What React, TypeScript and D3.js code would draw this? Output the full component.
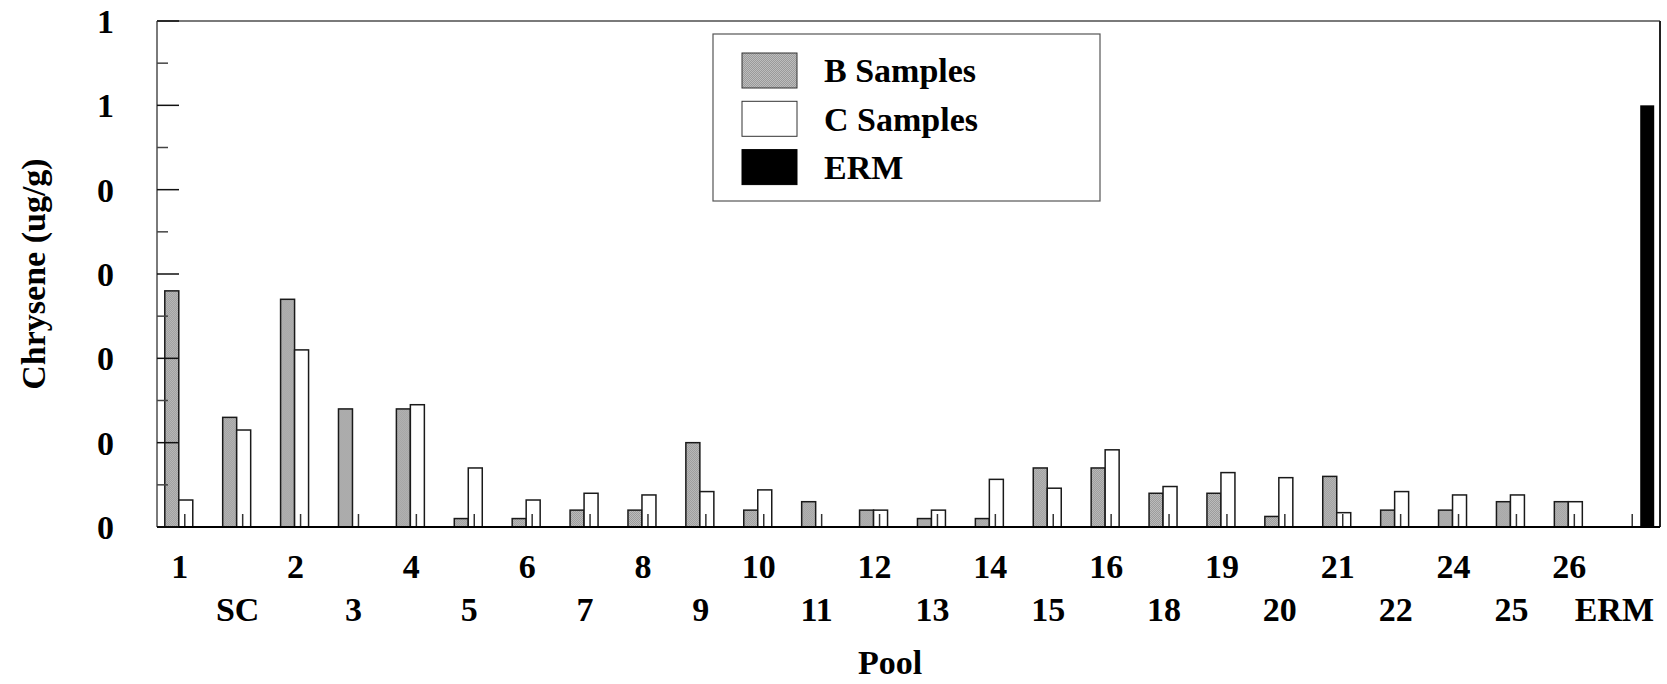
import React, { useEffect, useRef } from 'react';
import * as d3 from 'd3';

const width = 1667;
const height = 684;
const margin = { top: 21, right: 7, bottom: 157, left: 157 };

const pools = [
  '1', 'SC', '2', '3', '4', '5', '6', '7', '8', '9', '10', '11', '12',
  '13', '14', '15', '16', '18', '19', '20', '21', '22', '24', '25', '26', 'ERM',
];
const bSamples = [
  0.56, 0.26, 0.54, 0.28, 0.28, 0.02, 0.02, 0.04, 0.04, 0.2, 0.04, 0.06, 0.04,
  0.02, 0.02, 0.14, 0.14, 0.08, 0.08, 0.025, 0.12, 0.04, 0.04, 0.06, 0.06, 0,
];
const cSamples = [
  0.064, 0.23, 0.42, 0, 0.29, 0.14, 0.064, 0.08, 0.076, 0.084, 0.088, 0, 0.04,
  0.04, 0.113, 0.092, 0.183, 0.096, 0.129, 0.117, 0.034, 0.084, 0.076, 0.076,
  0.06, 0,
];
const ermValues = [
  0, 0, 0, 0, 0, 0, 0, 0, 0, 0, 0, 0, 0, 0, 0, 0, 0, 0, 0, 0, 0, 0, 0, 0, 0, 1.0,
];
const yTicks = [0, 0.2, 0.4, 0.6, 0.8, 1.0, 1.2];
const yTickLabels = ['0', '0', '0', '0', '0', '1', '1'];
const yMinorTicks = [0.1, 0.3, 0.5, 0.7, 0.9, 1.1];
const legendNames = ['B Samples', 'C Samples', 'ERM'];

const font = "'Liberation Serif', 'Times New Roman', serif";

const Chart = () => {
  const ref = useRef<SVGSVGElement>(null);

  useEffect(() => {
    if (!ref.current) return;
    const root = d3.select(ref.current);
    root.selectAll('*').remove();

    const left = margin.left;
    const right = width - margin.right;
    const top = margin.top;
    const bottom = height - margin.bottom;

    const defs = root.append('defs');
    const pat = defs
      .append('pattern')
      .attr('id', 'stipple')
      .attr('patternUnits', 'userSpaceOnUse')
      .attr('width', 2)
      .attr('height', 2);
    pat.append('rect').attr('width', 2).attr('height', 2).attr('fill', '#bdbdbd');
    pat.append('rect').attr('width', 1).attr('height', 1).attr('fill', '#9a9a9a');
    pat
      .append('rect')
      .attr('x', 1)
      .attr('y', 1)
      .attr('width', 1)
      .attr('height', 1)
      .attr('fill', '#9a9a9a');

    const x = d3
      .scaleBand<string>()
      .domain(pools)
      .range([left + 2, right])
      .paddingInner(0.275)
      .paddingOuter(0.1);
    const x1 = d3
      .scaleBand<string>()
      .domain(['b', 'c', 'erm'])
      .range([0, x.bandwidth()]);
    const y = d3.scaleLinear().domain([0, 1.2]).range([bottom, top]);

    const svg = root.append('g');

    // bars
    const groups = svg
      .selectAll('g.pool')
      .data(pools)
      .enter()
      .append('g')
      .attr('class', 'pool')
      .attr('transform', (d) => `translate(${x(d)},0)`);

    groups
      .filter((d) => bSamples[pools.indexOf(d)] > 0)
      .append('rect')
      .attr('x', x1('b') ?? 0)
      .attr('width', x1.bandwidth())
      .attr('y', (d) => y(bSamples[pools.indexOf(d)]))
      .attr('height', (d) => bottom - y(bSamples[pools.indexOf(d)]))
      .attr('fill', 'url(#stipple)')
      .attr('stroke', '#1a1a1a')
      .attr('stroke-width', 1.5);

    groups
      .filter((d) => cSamples[pools.indexOf(d)] > 0)
      .append('rect')
      .attr('x', x1('c') ?? 0)
      .attr('width', x1.bandwidth())
      .attr('y', (d) => y(cSamples[pools.indexOf(d)]))
      .attr('height', (d) => bottom - y(cSamples[pools.indexOf(d)]))
      .attr('fill', 'white')
      .attr('stroke', '#1a1a1a')
      .attr('stroke-width', 1.5);

    // small marker line in the C slot of each group
    groups
      .append('line')
      .attr('x1', (x1('c') ?? 0) + x1.bandwidth() / 2 - 1)
      .attr('x2', (x1('c') ?? 0) + x1.bandwidth() / 2 - 1)
      .attr('y1', bottom)
      .attr('y2', bottom - 13)
      .attr('stroke', '#333')
      .attr('stroke-width', 1.5);

    groups
      .filter((d) => ermValues[pools.indexOf(d)] > 0)
      .append('rect')
      .attr('x', x1('erm') ?? 0)
      .attr('width', x1.bandwidth())
      .attr('y', (d) => y(ermValues[pools.indexOf(d)]))
      .attr('height', (d) => bottom - y(ermValues[pools.indexOf(d)]))
      .attr('fill', 'black');

    // frame
    svg
      .append('line')
      .attr('x1', left).attr('x2', right).attr('y1', top).attr('y2', top)
      .attr('stroke', '#7a7a7a').attr('stroke-width', 2);
    svg
      .append('line')
      .attr('x1', left).attr('x2', left).attr('y1', top).attr('y2', bottom)
      .attr('stroke', '#7a7a7a').attr('stroke-width', 2);
    svg
      .append('line')
      .attr('x1', right).attr('x2', right).attr('y1', top).attr('y2', bottom)
      .attr('stroke', '#222').attr('stroke-width', 2);
    svg
      .append('line')
      .attr('x1', left).attr('x2', right).attr('y1', bottom).attr('y2', bottom)
      .attr('stroke', '#000').attr('stroke-width', 2);

    // y ticks
    svg
      .selectAll('line.major')
      .data(yTicks)
      .enter()
      .append('line')
      .attr('x1', left)
      .attr('x2', left + 22)
      .attr('y1', (d) => y(d))
      .attr('y2', (d) => y(d))
      .attr('stroke', '#111')
      .attr('stroke-width', 1.5);
    svg
      .selectAll('line.minor')
      .data(yMinorTicks)
      .enter()
      .append('line')
      .attr('x1', left)
      .attr('x2', left + 11)
      .attr('y1', (d) => y(d))
      .attr('y2', (d) => y(d))
      .attr('stroke', '#444')
      .attr('stroke-width', 1.5);

    svg
      .selectAll('text.ytick')
      .data(yTicks)
      .enter()
      .append('text')
      .attr('x', left - 43)
      .attr('y', (d) => y(d))
      .attr('dy', '0.35em')
      .attr('text-anchor', 'end')
      .style('font-family', font)
      .style('font-weight', 'bold')
      .style('font-size', '34px')
      .text((_, i) => yTickLabels[i]);

    // x labels, two staggered rows
    svg
      .selectAll('text.xtick')
      .data(pools)
      .enter()
      .append('text')
      .attr('x', (d, i) =>
        i === pools.length - 1 ? right - 6 : (x(d) ?? 0) + x.bandwidth() / 2 - 6
      )
      .attr('y', (_, i) => (i % 2 === 0 ? bottom + 51 : bottom + 94))
      .attr('text-anchor', (_, i) => (i === pools.length - 1 ? 'end' : 'middle'))
      .style('font-family', font)
      .style('font-weight', 'bold')
      .style('font-size', '34px')
      .text((d) => d);

    // axis titles
    svg
      .append('text')
      .attr('x', 890)
      .attr('y', height - 10)
      .attr('text-anchor', 'middle')
      .style('font-family', font)
      .style('font-weight', 'bold')
      .style('font-size', '34px')
      .text('Pool');

    svg
      .append('text')
      .attr('transform', `translate(45, ${(top + bottom) / 2}) rotate(-90)`)
      .attr('text-anchor', 'middle')
      .style('font-family', font)
      .style('font-weight', 'bold')
      .style('font-size', '34px')
      .text('Chrysene (ug/g)');

    // legend
    const legend = svg.append('g').attr('transform', 'translate(713, 34)');
    legend
      .append('rect')
      .attr('width', 387)
      .attr('height', 167)
      .attr('fill', 'white')
      .attr('stroke', '#555')
      .attr('stroke-width', 1.2);
    const fills = ['url(#stipple)', 'white', 'black'];
    const rows = legend
      .selectAll('g.row')
      .data(legendNames)
      .enter()
      .append('g')
      .attr('transform', (_, i) => `translate(29, ${19 + i * 48.3})`);
    rows
      .append('rect')
      .attr('width', 55)
      .attr('height', 35)
      .attr('fill', (_, i) => fills[i])
      .attr('stroke', (_, i) => (i === 2 ? 'black' : '#333'))
      .attr('stroke-width', 1);
    rows
      .append('text')
      .attr('x', 82)
      .attr('y', 17.5)
      .attr('dy', '0.35em')
      .style('font-family', font)
      .style('font-weight', 'bold')
      .style('font-size', '34px')
      .text((d) => d);
  }, []);

  return (
    <svg
      ref={ref}
      width={width}
      height={height}
      style={{ position: 'absolute', left: 0, top: 0, display: 'block', background: 'white' }}
    />
  );
};

export default function App() {
  return <Chart />;
}
